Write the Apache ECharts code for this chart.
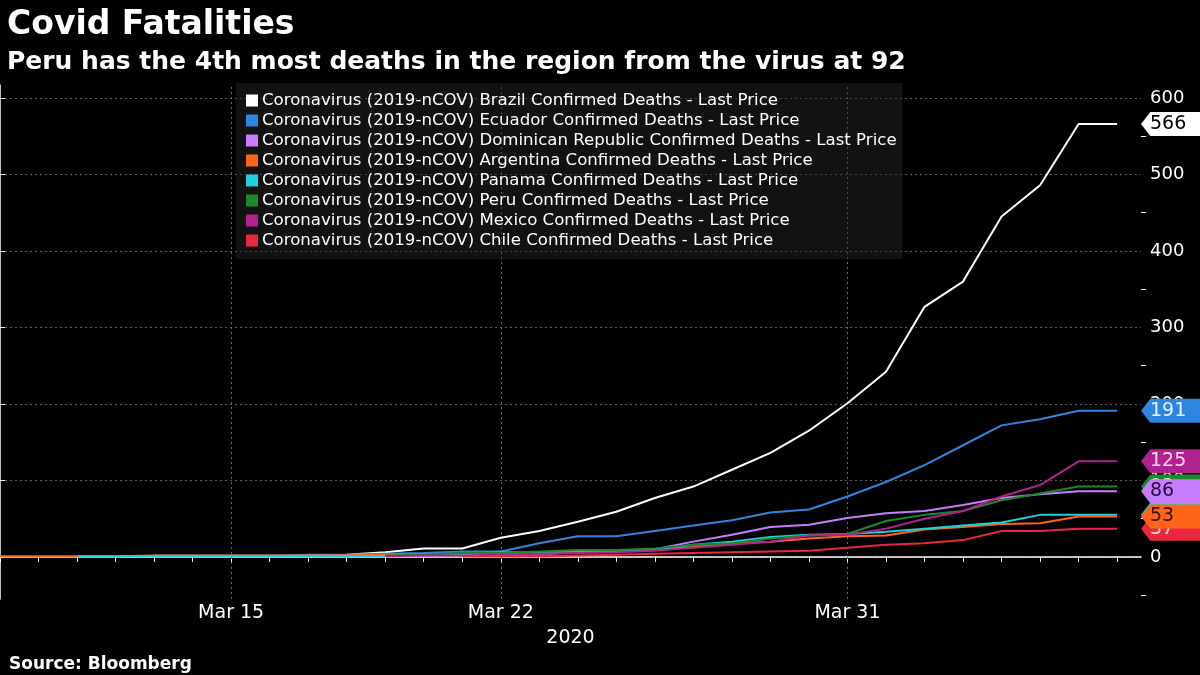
<!DOCTYPE html>
<html>
<head>
<meta charset="utf-8">
<script src="https://cdn.jsdelivr.net/npm/echarts@6/dist/echarts.min.js"></script>
<style>
html,body{margin:0;padding:0;background:#000;}
#chart{width:1200px;height:675px;}
</style>
</head>
<body>
<div id="chart"></div>
<script>
// Dates: Mar 9 .. Apr 7, 2020 (one per day)
const dates = ['Mar 9','Mar 10','Mar 11','Mar 12','Mar 13','Mar 14','Mar 15','Mar 16','Mar 17','Mar 18',
  'Mar 19','Mar 20','Mar 21','Mar 22','Mar 23','Mar 24','Mar 25','Mar 26','Mar 27','Mar 28',
  'Mar 29','Mar 30','Mar 31','Apr 1','Apr 2','Apr 3','Apr 4','Apr 5','Apr 6','Apr 7'];
const labeledDates = ['Mar 15','Mar 22','Mar 31'];
const yTickValues = [0,100,200,300,400,500,600];
const yMinorTickValues = [-50,50,150,250,350,450,550];

const brazil    = [null,null,null,null,null,null,null,null,1,3,6,11,11,25,34,46,59,77,92,114,136,165,201,242,327,360,445,486,566,566];
const ecuador   = [null,null,null,null,2,2,2,2,3,3,4,5,7,7,18,27,27,34,41,48,58,62,79,98,120,146,172,180,191,191];
const dominican = [null,null,null,null,null,null,null,null,2,2,2,2,3,3,3,7,8,10,20,29,39,42,51,57,60,68,77,82,86,86];
const argentina = [1,1,1,1,2,2,2,2,2,2,3,3,4,4,4,6,8,9,13,18,20,24,27,28,36,39,43,44,53,53];
const panama    = [null,null,1,1,1,1,1,1,1,1,1,3,3,6,6,8,8,9,16,20,26,29,30,33,37,41,45,55,55,55];
const peru      = [null,null,null,null,null,null,null,null,null,null,2,3,5,5,7,9,9,11,16,18,24,28,30,47,55,60,74,83,92,92];
const mexico    = [null,null,null,null,null,null,null,null,null,null,1,2,2,3,4,5,6,8,12,16,20,28,29,37,50,60,79,94,125,125];
const chile     = [null,null,null,null,null,null,null,null,null,null,null,null,1,1,1,2,3,4,5,6,7,8,12,16,18,22,34,34,37,37];

const seriesNames = ['Brazil','Ecuador','Dominican Republic','Argentina','Panama','Peru','Mexico','Chile'];
const seriesValues = [brazil, ecuador, dominican, argentina, panama, peru, mexico, chile];
const lineColors = ['#ffffff','#2f86e0','#c77dff','#ff6418','#1ed2d7','#1a8a2a','#b0238f','#e8283e'];
const tagTextColors = ['#000000','#e8f2ff','#2a0a3a','#3a1000','#00302f','#e8ffe8','#ffd9f0','#ffd9de'];

const FONT = 'DejaVu Sans';
const X_MAX = 29.62;

const legendName = n => 'Coronavirus (2019-nCOV) ' + n + ' Confirmed Deaths - Last Price';

const series = seriesValues.map((vals, i) => {
  const data = [];
  vals.forEach((v, d) => { if (v !== null) data.push([d, v]); });
  const last = vals[vals.length - 1];
  const s = {
    name: legendName(seriesNames[i]),
    type: 'line',
    data: data,
    showSymbol: false,
    symbol: 'none',
    lineStyle: { color: lineColors[i], width: 2 },
    itemStyle: { color: lineColors[i] },
    z: 3,
    animation: false,
    markPoint: {
      z: 30 - i,
      animation: false,
      silent: true,
      symbol: 'path://M0,50 L15,0 L100,0 L100,100 L15,100 Z',
      symbolKeepAspect: false,
      symbolSize: [62, 24],
      symbolOffset: [31, 0],
      data: [{ coord: [X_MAX, last], value: last }],
      itemStyle: { color: lineColors[i] },
      label: {
        show: true,
        position: 'insideLeft',
        distance: 9,
        color: tagTextColors[i],
        fontFamily: FONT,
        fontSize: 19,
        formatter: p => String(p.value)
      }
    }
  };
  if (i === 0) {
    s.markLine = {
      z: 1,
      silent: true,
      animation: false,
      symbol: 'none',
      label: { show: false },
      lineStyle: { color: '#6a6a6a', type: [2, 3], width: 1 },
      data: labeledDates.map(d => ({ xAxis: dates.indexOf(d) }))
    };
  }
  return s;
});

const chart = echarts.init(document.getElementById('chart'), null, { renderer: 'canvas' });
chart.setOption({
  backgroundColor: '#000000',
  animation: false,
  textStyle: { fontFamily: FONT },
  title: [
    { text: 'Covid Fatalities', left: 2, top: 4,
      textStyle: { color: '#ffffff', fontFamily: FONT, fontWeight: 'bold', fontSize: 33 } },
    { text: 'Peru has the 4th most deaths in the region from the virus at 92', left: 2, top: 45,
      textStyle: { color: '#ffffff', fontFamily: FONT, fontWeight: 'bold', fontSize: 25 } },
    { text: 'Source: Bloomberg', left: 4, top: 651,
      textStyle: { color: '#ffffff', fontFamily: FONT, fontWeight: 'bold', fontSize: 17 } }
  ],
  legend: {
    orient: 'vertical',
    left: 236,
    top: 83,
    padding: [9, 6, 10, 10],
    itemWidth: 12,
    itemHeight: 12,
    itemGap: 3,
    itemStyle: { borderWidth: 0 },
    icon: 'rect',
    selectedMode: false,
    backgroundColor: 'rgba(40,40,40,0.45)',
    textStyle: { color: '#ffffff', fontFamily: FONT, fontSize: 16.6, padding: [0, 0, 0, -1] },
    data: seriesNames.map(n => legendName(n))
  },
  grid: { left: 0, right: 59, top: 85, bottom: 76, containLabel: false },
  xAxis: {
    type: 'value',
    min: 0,
    max: X_MAX,
    name: '2020',
    nameLocation: 'middle',
    nameGap: 30,
    nameTextStyle: { color: '#ffffff', fontFamily: FONT, fontSize: 19 },
    axisLine: { show: true, lineStyle: { color: '#ffffff', width: 1.5 } },
    axisTick: { show: true, length: 5, lineStyle: { color: '#ffffff' },
      customValues: dates.map((d, i) => i) },
    axisLabel: { color: '#ffffff', fontFamily: FONT, fontSize: 19, margin: 5,
      customValues: labeledDates.map(d => dates.indexOf(d)),
      formatter: v => dates[Math.round(v)] },
    splitLine: { show: false }
  },
  yAxis: [
    {
      type: 'value',
      position: 'right',
      min: -55,
      max: 617,
      axisLine: { show: true, lineStyle: { color: '#ffffff', width: 1.5 } },
      axisTick: { show: true, length: 5, lineStyle: { color: '#ffffff' }, customValues: yTickValues },
      axisLabel: { color: '#ffffff', fontFamily: FONT, fontSize: 18, margin: 9, customValues: yTickValues },
      splitLine: { show: true, lineStyle: { color: '#5e5e5e', type: [2, 3], width: 1 } }
    },
    {
      type: 'value',
      position: 'right',
      min: -55,
      max: 617,
      axisLine: { show: false },
      axisTick: { show: true, length: 5, lineStyle: { color: '#ffffff' }, customValues: yMinorTickValues },
      axisLabel: { show: false },
      splitLine: { show: false }
    }
  ],
  series: series
});
</script>
</body>
</html>
